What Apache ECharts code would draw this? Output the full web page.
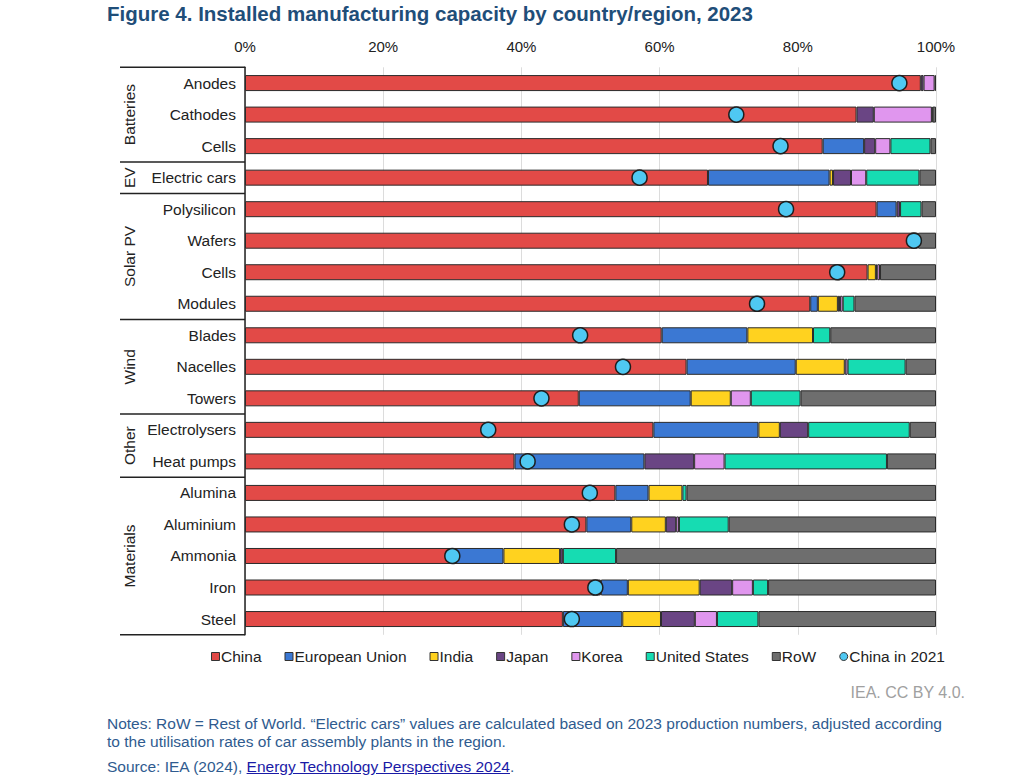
<!DOCTYPE html>
<html>
<head>
<meta charset="utf-8">
<script src="https://cdn.jsdelivr.net/npm/echarts@6/dist/echarts.min.js"></script>
<style>
  html, body { margin: 0; padding: 0; background: #fff; }
  #wrap { position: relative; width: 1024px; height: 784px; font-family: 'Liberation Sans', Arial, sans-serif; }
  #chart { position: absolute; left: 0; top: 0; width: 1024px; height: 784px; }
  .title { position: absolute; left: 107px; top: 2px; font-size: 20.5px; font-weight: bold; color: #1f4e79; }
  .credit { position: absolute; right: 59px; top: 684px; font-size: 16px; color: #a0a0a0; }
  .notes { position: absolute; left: 107px; top: 715px; width: 842px; font-size: 15.5px; line-height: 18px; color: #2f5b8f; }
  .source { position: absolute; left: 107px; top: 758px; font-size: 15.5px; color: #2f5b8f; }
  .source a { color: #1a1aa6; text-decoration: underline; }
</style>
</head>
<body>
<div id="wrap">
  <div id="chart"></div>
  <div class="title">Figure 4. Installed manufacturing capacity by country/region, 2023</div>
  <div class="credit">IEA. CC BY 4.0.</div>
  <div class="notes">Notes: RoW = Rest of World. “Electric cars” values are calculated based on 2023 production numbers, adjusted according to the utilisation rates of car assembly plants in the region.</div>
  <div class="source">Source: IEA (2024), <a>Energy Technology Perspectives 2024</a>.</div>
</div>
<script>
// rows, top to bottom
const categories = ['Anodes', 'Cathodes', 'Cells', 'Electric cars', 'Polysilicon', 'Wafers', 'Cells', 'Modules',
  'Blades', 'Nacelles', 'Towers', 'Electrolysers', 'Heat pumps', 'Alumina', 'Aluminium', 'Ammonia', 'Iron', 'Steel'];
const groupNames = ['Batteries', 'EV', 'Solar PV', 'Wind', 'Other', 'Materials'];
const groupSizes = [3, 1, 4, 3, 2, 5];

// shares of 2023 capacity, %
const china = [97.8, 88.5, 83.6, 67.0, 91.4, 97.4, 90.1, 81.8, 60.3, 63.9, 48.3, 59.1, 39.0, 53.6, 49.4, 30.0, 51.5, 46.0];
const eu    = [0, 0, 6.0, 17.6, 2.9, 0, 0, 1.1, 12.4, 15.8, 16.2, 15.2, 18.8, 4.8, 6.5, 7.4, 3.9, 8.6];
const india = [0, 0, 0, 0.5, 0, 0, 1.2, 2.9, 9.5, 7.1, 5.8, 3.1, 0, 4.9, 5.0, 8.2, 10.4, 5.6];
const japan = [0.4, 2.5, 1.6, 2.6, 0.5, 0, 0.2, 0.3, 0, 0, 0, 4.1, 7.2, 0, 1.5, 0.4, 4.7, 4.9];
const korea = [1.6, 8.4, 2.2, 2.2, 0, 0, 0.4, 0.4, 0, 0.4, 2.9, 0, 4.4, 0, 0.4, 0, 3.0, 3.2];
const us    = [0, 0.1, 5.8, 7.7, 3.1, 0, 0, 1.7, 2.5, 8.4, 7.2, 14.7, 23.5, 0.6, 7.2, 7.7, 2.2, 6.0];
const rowW  = [0.2, 0.5, 0.8, 2.4, 2.1, 2.6, 8.1, 11.8, 15.3, 4.4, 19.6, 3.8, 7.1, 36.1, 30.0, 46.3, 24.3, 25.7];
const china2021 = [94.7, 71.1, 77.5, 57.1, 78.3, 96.8, 85.7, 74.1, 48.5, 54.7, 42.9, 35.2, 40.9, 49.9, 47.3, 30.0, 50.7, 47.3];

const xTicks = [0, 20, 40, 60, 80, 100];

const FONT = "'Liberation Sans', Arial, sans-serif";
const stacks = [
  { name: 'China', data: china, color: '#e24a47' },
  { name: 'European Union', data: eu, color: '#3b78d3' },
  { name: 'India', data: india, color: '#ffd21f' },
  { name: 'Japan', data: japan, color: '#6a4584' },
  { name: 'Korea', data: korea, color: '#e096ee' },
  { name: 'United States', data: us, color: '#16dcb2' },
  { name: 'RoW', data: rowW, color: '#6e6e6e' },
];

const chart = echarts.init(document.getElementById('chart'), null, { renderer: 'svg' });

const series = stacks.map((s) => ({
  name: s.name,
  type: 'bar',
  stack: 'total',
  barWidth: 16,
  data: s.data.map((v) => (v > 0 ? v : '-')),
  itemStyle: { color: s.color, borderColor: '#2b2b2b', borderWidth: 1 },
  emphasis: { disabled: true },
}));

series.push({
  name: 'China in 2021',
  type: 'scatter',
  data: china2021.map((v, i) => [v, i]),
  symbolSize: 15,
  itemStyle: { color: '#4fc8f2', borderColor: '#1e1e1e', borderWidth: 1.5, opacity: 1 },
  z: 5,
});

chart.setOption({
  animation: false,
  textStyle: { fontFamily: FONT },
  grid: { left: 245, right: 88, top: 67.3, bottom: 149.2 },
  legend: {
    left: 211,
    top: 648.5,
    padding: 0,
    itemWidth: 8,
    itemHeight: 8,
    itemGap: 23,
    textStyle: { fontSize: 15.5, color: '#222', fontFamily: FONT, padding: [0, 0, 0, -3.5] },
    data: stacks.map((s) => ({ name: s.name, icon: 'rect', itemStyle: { borderColor: '#333', borderWidth: 1 } }))
      .concat([{ name: 'China in 2021', icon: 'circle', itemStyle: { borderColor: '#333', borderWidth: 1 } }]),
  },
  xAxis: {
    type: 'value',
    position: 'top',
    min: xTicks[0],
    max: xTicks[xTicks.length - 1],
    interval: 20,
    axisLine: { show: false },
    axisTick: { show: false },
    axisLabel: { formatter: '{value}%', fontSize: 15, color: '#222', margin: 13 },
    splitLine: { lineStyle: { color: '#dcdcdc', width: 1 } },
  },
  yAxis: {
    type: 'category',
    inverse: true,
    data: categories,
    axisLine: { lineStyle: { color: '#222', width: 1.5 } },
    axisTick: { show: false },
    axisLabel: { fontSize: 15.5, color: '#222', margin: 9 },
  },
  series,
});

// group dividers and rotated group names, placed through the category scale
const y0 = chart.convertToPixel({ yAxisIndex: 0 }, 0);
const y1 = chart.convertToPixel({ yAxisIndex: 0 }, 1);
const band = y1 - y0;
const axisX = chart.convertToPixel({ xAxisIndex: 0 }, 0);
const lineLeft = 120;
const graphics = [];
const edge = (idx) => chart.convertToPixel({ yAxisIndex: 0 }, idx) - band / 2;

graphics.push({ type: 'line', shape: { x1: lineLeft, y1: edge(0), x2: axisX, y2: edge(0) },
  style: { stroke: '#222', lineWidth: 1.5 } });
let start = 0;
groupNames.forEach((g, k) => {
  const end = start + groupSizes[k];
  const top = edge(start);
  const bottom = edge(end);
  graphics.push({ type: 'line', shape: { x1: lineLeft, y1: bottom, x2: axisX, y2: bottom },
    style: { stroke: '#222', lineWidth: 1.5 } });
  graphics.push({
    type: 'text',
    x: 129,
    y: (top + bottom) / 2,
    rotation: Math.PI / 2,
    style: { text: g, fontSize: 15.5, fontFamily: FONT, fill: '#222', align: 'center', verticalAlign: 'middle' },
  });
  start = end;
});
chart.setOption({ graphic: graphics });
</script>
</body>
</html>
